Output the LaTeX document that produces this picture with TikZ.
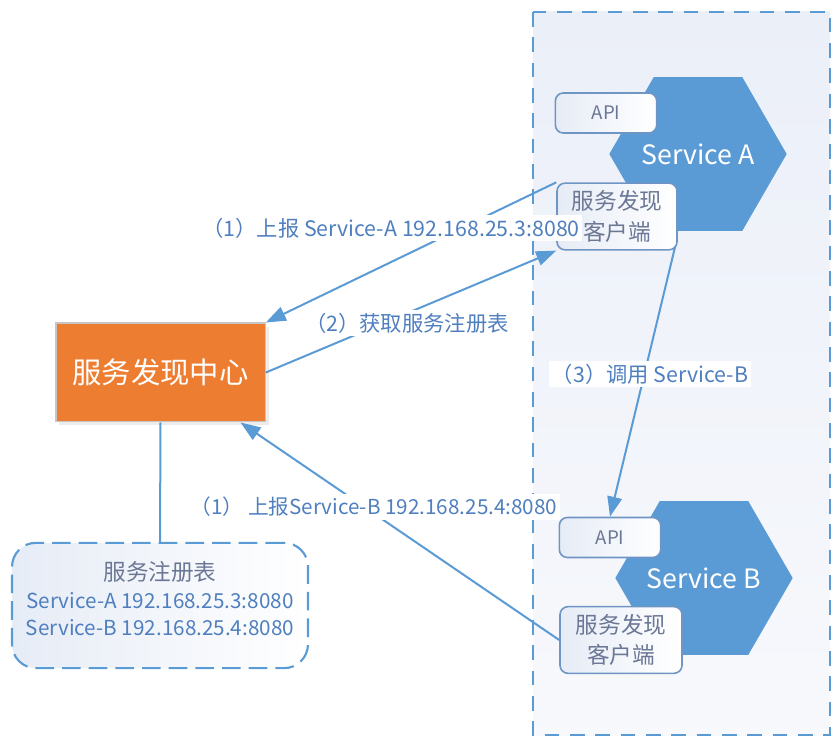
\documentclass[tikz,border=0pt]{standalone}
\usepackage{fontspec}
\setmainfont{Noto Sans CJK SC}
\usetikzlibrary{arrows.meta,shapes.geometric,shadows}
\definecolor{linkblue}{HTML}{5B9BD5}
\definecolor{hexblue}{HTML}{5B9BD5}
\definecolor{hubfill}{HTML}{ED7D31}
\definecolor{linktext}{HTML}{4F7FBF}
\definecolor{boxtext}{HTML}{6B7795}
\definecolor{boxedge}{HTML}{6F95C5}
\definecolor{boxfill}{HTML}{E6ECF6}
\definecolor{zonefill}{HTML}{EBEFF8}
\begin{document}
\begin{tikzpicture}[x=0.75pt, y=-0.75pt,
  hexsvc/.style={regular polygon, regular polygon sides=6, minimum size=133pt, inner sep=0pt,
                 outer sep=0pt, fill=hexblue,
                 label={[text=white, font=\fontsize{20}{24}\selectfont]center:#1}},
  softbox/.style={draw=boxedge, line width=1.2pt, rounded corners=6pt, left color=boxfill,
                  right color=white, text=boxtext, align=center, inner sep=0pt},
  apibox/.style={softbox, minimum width=76pt, minimum height=30pt, font=\fontsize{14}{16}\selectfont},
  clientbox/.style={softbox, minimum width=90pt, minimum height=50pt, font=\fontsize{17}{23}\selectfont},
  linklabel/.style={fill=white, text=linktext, inner sep=2pt, font=\fontsize{16}{18}\selectfont},
  link/.style={linkblue, line width=1.5pt, -{Triangle[length=15pt, width=11pt]}},
]
\useasboundingbox (0,0) rectangle (840,745);

% Service zone
\draw[linkblue, line width=1.6pt, dash pattern=on 11pt off 8pt, top color=zonefill, bottom color=zonefill!40]
  (533,12) rectangle (830,735);

% === Service A ===
\node[hexsvc=Service A] (svcA) at (698,154) {};
\node[apibox] (apiA) at (606,113) {API};
\node[clientbox] (cliA) at (617,216.5) {服务发现\\客户端};

% === Service B ===
\node[hexsvc=Service B] (svcB) at (704,578) {};
\node[apibox] (apiB) at (610,537.5) {API};
\node[clientbox, minimum width=91.5pt] (cliB) at (621,640) {服务发现\\客户端};

% === Discovery centre and registry ===
\node[fill=hubfill, draw=gray!45, line width=1pt, minimum width=157pt, minimum height=74pt,
      text=white, font=\fontsize{22}{26}\selectfont, drop shadow={opacity=0.15}] (hub) at (160.5,372.5) {服务发现中心};

\node[draw=linkblue, line width=1.6pt, dash pattern=on 14pt off 6pt, rounded corners=18pt,
      left color=boxfill, right color=white, minimum width=222pt, minimum height=94pt,
      inner sep=0pt,
      label={[align=center, yshift=5pt, text=linktext, font=\fontsize{15.5}{20.5}\selectfont]center:
        {\fontsize{17}{20}\selectfont\color{boxtext}服务注册表}\\
        Service-A 192.168.25.3:8080\\
        Service-B 192.168.25.4:8080}] (reg) at (160,605.5) {};
\draw[linkblue, line width=1.5pt] (hub.south) -- (reg.north);

% Connectors
\draw[link] (cliA.north west) -- (hub.north east);
\draw[link] (hub.east) -- (cliA.south west);
\draw[link] ([shift={(-2pt,3pt)}]cliA.south east) -- (apiB.north);
\draw[link] (cliB.west) -- ([xshift=-19pt]hub.south east);

% Labels
\node[linklabel] (lblA) at (391,228) {（1）上报 Service-A 192.168.25.3:8080};
\node[linklabel] (lblGet) at (407,323) {（2）获取服务注册表};
\node[linklabel] (lblCall) at (650,374) {（3）调用 Service-B};
\node[linklabel, font=\fontsize{15.5}{18}\selectfont] (lblB) at (374,507) {（1） 上报Service-B 192.168.25.4:8080};

\end{tikzpicture}
\end{document}
